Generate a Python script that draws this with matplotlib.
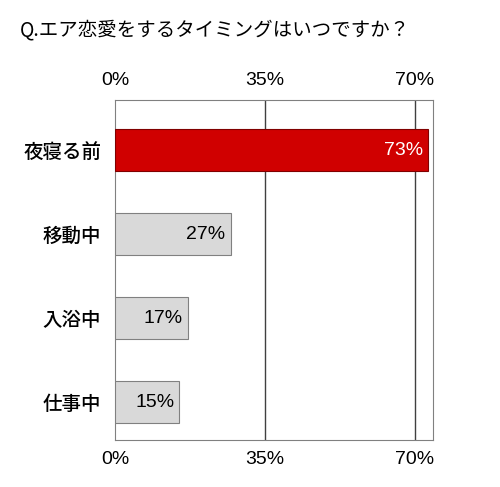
import matplotlib
matplotlib.use("Agg")
import matplotlib.pyplot as plt

plt.rcParams['font.family'] = ['Noto Sans CJK JP', 'DejaVu Sans']

categories = ["夜寝る前", "移動中", "入浴中", "仕事中"]
values = [73, 27, 17, 15]
ticks = [0, 35, 70]
tick_labels = ["0%", "35%", "70%"]
title = "Q.エア恋愛をするタイミングはいつですか？"

fig = plt.figure(figsize=(5.0, 4.87), dpi=100)
ax = fig.add_axes([115/500, 1-440/487, 318/500, 340/487])
colors = ["#D00000"] + ["#D9D9D9"] * 3
edges = ["#800000"] + ["#808080"] * 3
y = list(range(len(categories)))
ax.barh(y, values, height=0.5, color=colors, edgecolor=edges, linewidth=0.8, zorder=3)
ax.set_ylim(3.45, -0.6)
ax.set_xlim(0, 74.2)
for xv in ticks[1:]:
    ax.axvline(xv, color="#404040", linewidth=1, zorder=1)
ax.set_xticks(ticks)
ax.set_xticklabels(tick_labels, fontsize=14, family=['Liberation Sans'])
ax.tick_params(axis='x', top=True, labeltop=True, length=0, pad=8)
ax.set_yticks(y)
ax.set_yticklabels(categories, fontsize=14, fontweight='medium')
ax.tick_params(axis='y', length=0, pad=10)
for s in ax.spines.values():
    s.set_color("#808080")
for i, v in enumerate(values):
    ax.text(v - 1.2, i, f"{v}%", ha='right', va='center', fontsize=14,
            family=['Liberation Sans'],
            color='white' if i == 0 else 'black', zorder=4)
fig.text(20/500, 1-30/487, title, fontsize=14, va='center', ha='left')
fig.savefig("out.png", dpi=100)
